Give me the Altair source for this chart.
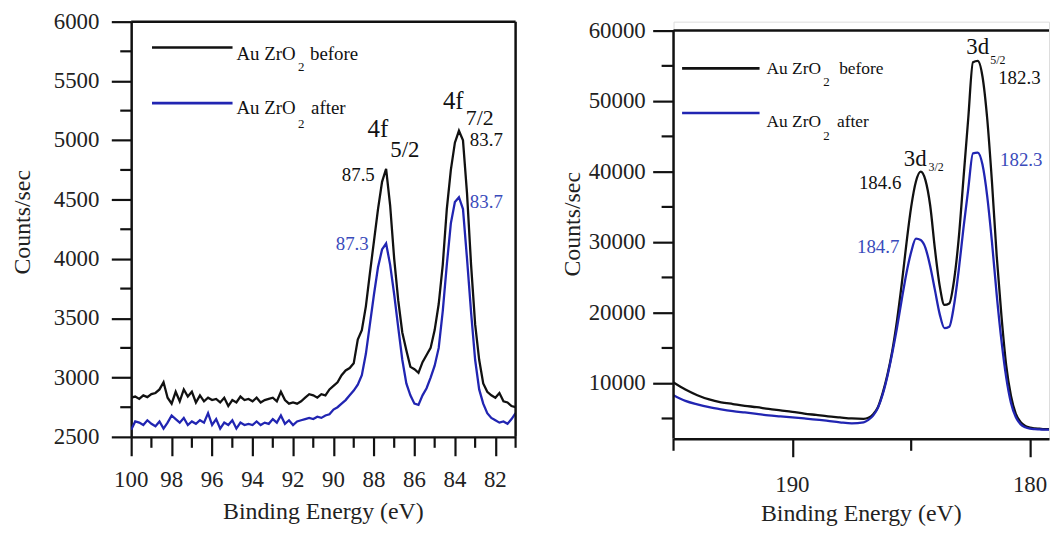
import altair as alt
import pandas as pd

FONT = "Liberation Serif, Times New Roman, Times, Nimbus Roman, DejaVu Serif, serif"
BLACK = "#111111"
GREY = "#222222"
BLUE_LINE = "#2125b2"
BLUE_TEXT = "#3a4bbb"

# ---------------- Left panel: Au 4f ----------------
au4f_energy = [round(100.0 - 0.2 * i, 1) for i in range(96)]
au4f_before = [
    2830, 2840, 2820, 2850, 2835, 2860, 2870, 2900, 2960, 2830,
    2780, 2880, 2800, 2900, 2840, 2880, 2790, 2850, 2800, 2830,
    2810, 2820, 2790, 2830, 2760, 2810, 2790, 2840, 2810, 2820,
    2800, 2830, 2790, 2810, 2820, 2830, 2800, 2880, 2810, 2780,
    2790, 2780, 2800, 2830, 2860, 2850, 2830, 2860, 2850, 2900,
    2930, 2960, 3020, 3060, 3080, 3120, 3320, 3400, 3600, 3880,
    4150, 4420, 4650, 4760, 4450, 4000, 3650, 3380, 3230, 3090,
    3070, 3040, 3130, 3190, 3250, 3400, 3620, 3950, 4420, 4750,
    4980, 5080, 5000, 4550, 3950, 3450, 3150, 2950, 2880, 2850,
    2830, 2870, 2800, 2790, 2760, 2750,
]
au4f_after = [
    2560, 2630, 2620, 2600, 2640, 2610, 2590, 2630, 2570, 2620,
    2680, 2650, 2620, 2660, 2600, 2630, 2610, 2640, 2620, 2700,
    2600, 2650, 2570, 2620, 2600, 2640, 2570, 2620, 2600, 2610,
    2600, 2630, 2600, 2620, 2610, 2650, 2620, 2680, 2610, 2640,
    2600, 2630, 2640, 2650, 2660, 2650, 2670, 2660, 2680, 2690,
    2730, 2750, 2780, 2810, 2850, 2890, 2940, 3020, 3200, 3450,
    3700, 3930, 4080, 4130, 3950, 3700, 3420, 3150, 2950, 2850,
    2780, 2770, 2850, 2910, 3000, 3100, 3250, 3560, 3950, 4300,
    4480, 4520, 4420, 4000, 3550, 3150, 2900, 2780, 2700, 2660,
    2640, 2620, 2630, 2610, 2650, 2700,
]
au4f_x_major = [100, 98, 96, 94, 92, 90, 88, 86, 84, 82]
au4f_x_minor = [99, 97, 95, 93, 91, 89, 87, 85, 83, 81]
au4f_y_major = [2500, 3000, 3500, 4000, 4500, 5000, 5500, 6000]
au4f_y_minor = [2750, 3250, 3750, 4250, 4750, 5250, 5750]

# ---------------- Right panel: Zr 3d ----------------
zr3d_energy = [
    195.0, 194.5, 194.0, 193.5, 193.0, 192.5, 192.0, 191.5, 191.0, 190.5,
    190.0, 189.5, 189.0, 188.5, 188.0, 187.5, 187.0,
    186.8, 186.6, 186.4, 186.2, 186.0, 185.8, 185.6, 185.4, 185.2, 185.0,
    184.8, 184.6, 184.4, 184.2, 184.0, 183.8, 183.6, 183.4, 183.2, 183.0,
    182.8, 182.6, 182.4, 182.2, 182.0, 181.8, 181.6, 181.4, 181.2, 181.0,
    180.8, 180.6, 180.4, 180.2, 180.0, 179.8, 179.6, 179.4, 179.2, 179.0,
]
zr3d_before = [
    10100, 9100, 8300, 7700, 7300, 7050, 6800, 6600, 6350, 6150,
    5950, 5700, 5500, 5300, 5150, 5000, 4950,
    5100, 5600, 6600, 8600, 11200, 14500, 18800, 24000, 29800, 35000,
    38600, 40000, 38800, 35200, 29000, 23800, 21100, 21300, 24500, 30500,
    39000, 47500, 55500, 55700, 53500, 47500, 38500, 28000, 19500, 12500,
    8200, 5700, 4500, 3950, 3700, 3600, 3550, 3500, 3500, 3480,
]
zr3d_after = [
    8300, 7500, 7000, 6600, 6300, 6050, 5850, 5650, 5450, 5300,
    5150, 5000, 4850, 4650, 4450, 4300, 4450,
    4800, 5400, 6500, 8400, 11000, 14200, 17800, 21800, 25600, 28600,
    30500, 30300, 29200, 26600, 23200, 19800, 17800, 18000, 21000, 26000,
    32000, 37500, 42600, 42700, 41000, 36500, 30000, 22500, 16000, 10800,
    7200, 5200, 4200, 3750, 3550, 3480, 3450, 3420, 3420, 3400,
]
zr3d_x_major = [190, 180]
zr3d_x_minor = [195, 185]
zr3d_y_major = [10000, 20000, 30000, 40000, 50000, 60000]
zr3d_y_minor = [5000, 15000, 25000, 35000, 45000, 55000]

x_title = "Binding Energy (eV)"
y_title = "Counts/sec"

# Legend / annotation texts (position in data units: eV, counts/sec)
left_text_label = ["Au ZrO", "2", "before", "Au ZrO", "2", "after",
                   "4f", "5/2", "4f", "7/2", "83.7", "87.5", "87.3", "83.7"]
left_text_e = [94.80, 91.75, 91.16, 94.80, 91.75, 91.11,
               88.32, 87.19, 84.59, 83.46, 83.26, 89.59, 89.89, 83.26]
left_text_c = [5673, 5581, 5673, 5221, 5104, 5221,
               5029, 4861, 5263, 5130, 4955, 4660, 4074, 4426]
left_text_size = [19, 13, 19, 19, 13, 19, 25, 23, 25, 22, 19, 19, 19, 19]
left_text_color = [BLACK] * 12 + [BLUE_TEXT, BLUE_TEXT]

right_text_label = ["Au ZrO", "2", "before", "Au ZrO", "2", "after",
                    "3d", "5/2", "182.3", "3d", "3/2", "184.6", "184.7", "182.3"]
right_text_e = [191.09, 188.70, 188.03, 191.09, 188.70, 188.12,
                182.68, 181.67, 181.34, 185.31, 184.27, 187.20, 187.28, 181.26]
right_text_c = [53803, 52112, 53803, 46338, 44507, 46338,
                56620, 55211, 52394, 40844, 40140, 37605, 28450, 40844]
right_text_size = [17.5, 13, 17.5, 17.5, 13, 17.5, 23, 12, 19, 23, 12, 19, 19, 19]
right_text_color = [BLACK] * 12 + [BLUE_TEXT, BLUE_TEXT]

# legend swatch lines
left_leg_e1 = [98.97, 98.97]
left_leg_e2 = [94.99, 94.99]
left_leg_c = [5782, 5313]
right_leg_e1 = [194.64, 194.64]
right_leg_e2 = [191.38, 191.38]
right_leg_c = [54648, 48309]
leg_color = [BLACK, BLUE_LINE]

axis_style = dict(grid=False, domainColor=BLACK, domainWidth=2.5, tickColor=BLACK,
                  tickWidth=2.2, labels=False, title=None)


def panel(energy, before, after, xdom, ydom, xmajor, ymajor, xminor, yminor,
          tick_major_x, tick_major_y, minor_len, frame, leg, texts,
          width, height, interp, ydomain_line, xlab_off, ylab_off,
          xtitle_off, ytitle_x, ytitle_y):
    df_b = pd.DataFrame({"E": energy, "C": before})
    df_a = pd.DataFrame({"E": energy, "C": after})
    xs = alt.Scale(domain=xdom, reverse=True, nice=False, zero=False)
    ys = alt.Scale(domain=ydom, nice=False, zero=False)

    xaxis = alt.Axis(values=xmajor, tickSize=tick_major_x, **axis_style)
    yaxis = alt.Axis(values=ymajor, tickSize=tick_major_y, domain=ydomain_line,
                     **axis_style)

    line_b = alt.Chart(df_b).mark_line(color=BLACK, strokeWidth=2.3, clip=True,
                                       interpolate=interp).encode(
        x=alt.X("E:Q", scale=xs, axis=xaxis, title=None),
        y=alt.Y("C:Q", scale=ys, axis=yaxis, title=None),
    )
    line_a = alt.Chart(df_a).mark_line(color=BLUE_LINE, strokeWidth=2.3, clip=True,
                                       interpolate=interp).encode(
        x=alt.X("E:Q", title=None), y=alt.Y("C:Q", title=None),
    )
    fr = alt.Chart(pd.DataFrame(frame)).mark_rule(color=BLACK, strokeWidth=2.5).encode(
        x=alt.X("x1:Q", title=None), x2="x2:Q",
        y=alt.Y("y1:Q", title=None), y2="y2:Q",
    )
    xmin = alt.Chart(pd.DataFrame({"v": xminor})).mark_rule(
        color=BLACK, strokeWidth=2.2).encode(
        x=alt.X("v:Q", title=None), y=alt.value(height), y2=alt.value(height + minor_len),
    )
    ymin = alt.Chart(pd.DataFrame({"v": yminor})).mark_rule(
        color=BLACK, strokeWidth=2.2).encode(
        y=alt.Y("v:Q", title=None), x=alt.value(0), x2=alt.value(-minor_len),
    )
    xlab = alt.Chart(pd.DataFrame({"v": xmajor, "t": [str(v) for v in xmajor]})).mark_text(
        font=FONT, fontSize=23, color=GREY, align="center", baseline="top").encode(
        x=alt.X("v:Q", title=None), y=alt.value(height + xlab_off), text="t:N",
    )
    ylab = alt.Chart(pd.DataFrame({"v": ymajor, "t": [str(v) for v in ymajor]})).mark_text(
        font=FONT, fontSize=23, color=GREY, align="right", baseline="middle").encode(
        y=alt.Y("v:Q", title=None), x=alt.value(-ylab_off), text="t:N",
    )
    xt = alt.Chart(pd.DataFrame({"t": [x_title]})).mark_text(
        font=FONT, fontSize=24, color=GREY, align="center", baseline="alphabetic").encode(
        x=alt.value(width / 2), y=alt.value(height + xtitle_off), text="t:N",
    )
    yt = alt.Chart(pd.DataFrame({"t": [y_title]})).mark_text(
        font=FONT, fontSize=24, color=GREY, align="center", baseline="middle",
        angle=270).encode(
        x=alt.value(ytitle_x), y=alt.value(ytitle_y), text="t:N",
    )
    lg = alt.Chart(pd.DataFrame(leg)).mark_rule(strokeWidth=2.6).encode(
        x=alt.X("e1:Q", title=None), x2="e2:Q", y=alt.Y("c:Q", title=None),
        color=alt.Color("color:N", scale=None),
    )
    tx = alt.Chart(pd.DataFrame(texts)).mark_text(
        align="left", baseline="alphabetic", font=FONT).encode(
        x=alt.X("e:Q", title=None), y=alt.Y("c:Q", title=None), text="label:N",
        color=alt.Color("color:N", scale=None),
        size=alt.Size("size:Q", scale=None),
    )
    return alt.layer(line_b, line_a, fr, xmin, ymin, lg, tx, xlab, ylab, yt, xt).properties(
        width=width, height=height)


left = panel(
    au4f_energy, au4f_before, au4f_after, [81, 100], [2500, 6000],
    au4f_x_major, au4f_y_major, au4f_x_minor, au4f_y_minor, 19, 20, 11,
    {"x1": [100, 81], "x2": [81, 81], "y1": [6000, 2500], "y2": [6000, 6000]},
    {"e1": left_leg_e1, "e2": left_leg_e2, "c": left_leg_c, "color": leg_color},
    {"e": left_text_e, "c": left_text_c, "label": left_text_label,
     "size": left_text_size, "color": left_text_color},
    387, 418, "linear", True, 32, 32, 83, -109, 202)

right = panel(
    zr3d_energy, zr3d_before, zr3d_after, [179.2, 195], [2111, 61268],
    zr3d_x_major, zr3d_y_major, zr3d_x_minor, zr3d_y_minor, 18, 21, 12,
    {"x1": [195, 195], "x2": [179.2, 195], "y1": [60000, 2111], "y2": [60000, 60000]},
    {"e1": right_leg_e1, "e2": right_leg_e2, "c": right_leg_c, "color": leg_color},
    {"e": right_text_e, "c": right_text_c, "label": right_text_label,
     "size": right_text_size, "color": right_text_color},
    378, 420, "monotone", False, 35, 28, 83, -101, 204)

chart = alt.hconcat(left, right, spacing=43).properties(
    padding={"left": 2, "top": 0, "right": 0, "bottom": 0}
).configure_view(stroke=None).configure(background="white")

chart.save("out.html", embed_options={"renderer": "svg", "actions": False})
